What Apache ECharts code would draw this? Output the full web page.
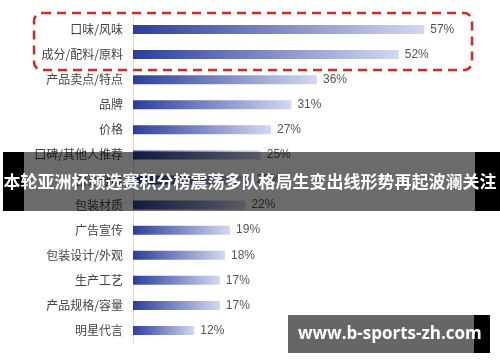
<!DOCTYPE html>
<html><head><meta charset="utf-8">
<script src="https://cdn.jsdelivr.net/npm/echarts@6/dist/echarts.min.js"></script>
<style>html,body{margin:0;padding:0;background:#fff}#c{width:500px;height:362px}</style>
</head><body><div id="c"></div>
<script>
var categories = ['口味/风味','成分/配料/原料','产品卖点/特点','品牌','价格','口碑/其他人推荐','营养健康','包装材质','广告宣传','包装设计/外观','生产工艺','产品规格/容量','明星代言'];
var values = [57,52,36,31,27,25,23,22,19,18,17,17,12];
var titleText = '本轮亚洲杯预选赛积分榜震荡多队格局生变出线形势再起波澜关注';
var siteText = 'www.b-sports-zh.com';

var chart = echarts.init(document.getElementById('c'), null, {renderer:'canvas'});
var font = '"Noto Sans CJK SC","Noto Sans",sans-serif';
chart.setOption({
  animation:false,
  backgroundColor:'#fff',
  grid:{left:133, top:17, width:306.6, height:326, containLabel:false},
  xAxis:{type:'value', min:0, max:60, show:false},
  yAxis:{type:'category', data:categories, inverse:true,
    axisLine:{show:true, lineStyle:{color:'#dcdcdc', width:1}},
    axisTick:{show:false},
    axisLabel:{color:'#444', fontSize:12, margin:10, fontFamily:font}},
  series:[{type:'bar', data:values, barWidth:9,
    itemStyle:{color:new echarts.graphic.LinearGradient(0,0,1,0,[{offset:0,color:'#2c3e9c'},{offset:1,color:'#d3d8ef'}])},
    label:{show:true, position:'right', distance:6, formatter:'{c}%', color:'#555', fontSize:12, fontFamily:'"Liberation Sans",Arial,sans-serif'}}],
  graphic:[
    {type:'rect', z:100, shape:{x:34,y:13,width:438,height:57,r:8}, style:{fill:null, stroke:'#d42a2a', lineWidth:2.5, lineDash:[9,6]}},
    {type:'rect', z:100, shape:{x:24,y:152,width:451,height:59}, style:{fill:'rgba(0,0,0,0.58)'}},
    {type:'rect', z:100, shape:{x:3,y:152,width:21,height:59}, style:{fill:'#000'}},
    {type:'rect', z:100, shape:{x:475,y:152,width:25,height:59}, style:{fill:'#000'}},
    {type:'text', z:101, x:250, y:182, style:{text:titleText, fill:'#fff', font:'bold 17px "Noto Sans CJK SC",sans-serif', textAlign:'center', textVerticalAlign:'middle'}},
    {type:'rect', z:100, shape:{x:288,y:315,width:186,height:38}, style:{fill:'rgba(0,0,0,0.6)'}},
    {type:'rect', z:100, shape:{x:474,y:315,width:16,height:38}, style:{fill:'#000'}},
    {type:'text', z:101, x:298, y:334, style:{text:siteText, fill:'#fff', font:'bold 17px "Open Sans",sans-serif', textAlign:'left', textVerticalAlign:'middle'}}
  ]
});
</script></body></html>
